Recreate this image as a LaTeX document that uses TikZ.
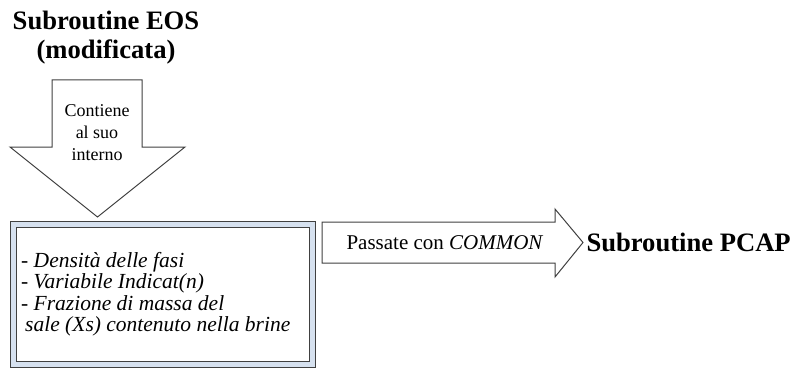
\documentclass[tikz,border=0pt]{standalone}
\usepackage{fontspec}
\setmainfont{Liberation Serif}
\usepackage{xcolor}
\usepackage{tikz}
\usetikzlibrary{
  arrows.meta,
  positioning,
  calc
}
\definecolor{framegray}{HTML}{404040}
\definecolor{frameblue}{HTML}{D6E1EF}

\begin{document}
\begin{tikzpicture}[x=1pt, y=-1pt,
  blockarrow/.style={draw=framegray, fill=white, line width=1pt, line join=miter},
  titletext/.style={font=\fontsize{26.6}{29.5}\selectfont\bfseries, align=center},
  arrowtext/.style={font=\fontsize{18}{22}\selectfont, align=center, inner sep=0pt},
  listtext/.style={font=\fontsize{21.5}{21.5}\selectfont\itshape, align=left, anchor=west, inner sep=0pt}
]
\useasboundingbox (0,0) rectangle (798,369);

% titolo della subroutine EOS
\node[titletext] (eos) at (106,37.5) {Subroutine EOS\\(modificata)};

% freccia verso il basso
\draw[blockarrow] (52,80) -- (142,80) -- (142,147) -- (185,147) -- (97.5,217)
  -- (10,147) -- (52,147) -- cycle;
\node[arrowtext] (contiene) at (97,133) {Contiene\\al suo\\interno};

% riquadro doppio con le variabili
\filldraw[fill=frameblue, draw=framegray, line width=1pt] (10,221) rectangle (315,367);
\filldraw[fill=white, draw=framegray, line width=1pt] (16,227) rectangle (309,361);
\node[listtext] (vars) at (21,294) {- Densità delle fasi\\
  - Variabile Indicat(n)\\
  - Frazione di massa del\\
  \hspace*{4pt}sale (Xs) contenuto nella brine};

% freccia verso destra
\draw[blockarrow] (322,222) -- (555,222) -- (555,209) -- (583,242.5) -- (555,277)
  -- (555,263) -- (322,263) -- cycle;
\coordinate (tip) at (583,242.5);
\node[arrowtext, font=\fontsize{21}{25}\selectfont] (common) at (445,243) {Passate con \textit{COMMON}};

% subroutine di destinazione
\node[titletext, right=0pt of tip] (pcap) {Subroutine PCAP};
\end{tikzpicture}
\end{document}
